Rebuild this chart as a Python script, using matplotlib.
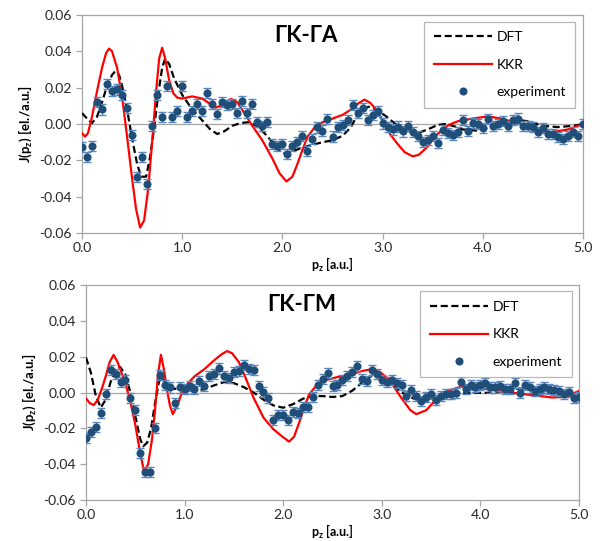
import numpy as np
import matplotlib
matplotlib.use("Agg")
import matplotlib.pyplot as plt
from matplotlib.lines import Line2D
from matplotlib.ticker import FormatStrFormatter, MultipleLocator

plt.rcParams["font.family"] = ["Lato", "DejaVu Sans"]
plt.rcParams["axes.unicode_minus"] = False

# experiment: p_z grid 0.00 ... 5.00, step 0.05
exp_x = [round(0.05 * i, 2) for i in range(101)]

exp_ga = [
    -0.0125, -0.018, -0.012, 0.012, 0.008, 0.022, 0.018, 0.019, 0.016, 0.009,
    -0.006, -0.029, -0.018, -0.033, -0.001, 0.016, 0.004, 0.021, 0.004, 0.007,
    0.021, 0.004, 0.007, 0.011, 0.007, 0.017, 0.011, 0.0055, 0.012, 0.0105,
    0.011, 0.006, 0.0127, 0.006, 0.011, 0.001, -0.001, 0.001, -0.011, -0.0123,
    -0.011, -0.0163, -0.0123, -0.010, -0.0065, -0.015, -0.0082, -0.0019, -0.0036, 0.0027,
    -0.0069, -0.0015, -0.0005, 0.0023, 0.0103, 0.006, 0.0086, 0.0023, 0.005, 0.0073,
    0.0003, -0.0018, -0.003, -0.0014, -0.0041, -0.001, -0.0046, -0.0065, -0.010, -0.0087,
    -0.0068, -0.0105, -0.0035, -0.0048, -0.006, -0.0044, 0.002, -0.004, 0.0006, 0.0,
    -0.0022, 0.0028, -0.0013, 0.0002, 0.0015, -0.0013, 0.0024, 0.003, -0.0013, -0.0009,
    -0.0017, -0.0044, -0.0022, -0.0053, -0.0053, -0.0073, -0.0083, -0.0068, -0.0046, -0.0064,
    0.0,
]

exp_gm = [
    -0.0253, -0.0223, -0.0192, -0.0117, -0.001, 0.0125, 0.0102, 0.006, 0.0069, -0.003,
    -0.0095, -0.034, -0.0443, -0.0443, -0.020, 0.0097, 0.004, 0.0028, -0.0058, 0.0028,
    0.0022, 0.0037, 0.0019, 0.0063, 0.0037, 0.009, 0.0102, 0.0134, 0.009, 0.0082,
    0.0115, 0.0118, 0.0153, 0.0132, 0.0128, 0.0034, 0.0004, -0.0033, -0.0154, -0.0125,
    -0.0127, -0.0152, -0.011, -0.0116, -0.0082, -0.008, -0.0025, 0.0041, 0.0077, 0.0107,
    0.0035, 0.0041, 0.0069, 0.0091, 0.0112, 0.0150, 0.0078, 0.0063, 0.0125, 0.0101,
    0.007, 0.006, 0.007, 0.0055, 0.004, -0.002, 0.0013, -0.002, -0.0047, -0.0024,
    -0.0006, -0.0044, -0.002, -0.001, -0.0006, -0.0003, 0.0056, 0.0017, 0.0041, 0.0032,
    0.0041, 0.0054, 0.0028, 0.0028, 0.0035, 0.0022, 0.0017, 0.0054, -0.0002, 0.0041,
    0.0028, 0.0009, 0.0022, 0.0028, 0.0019, 0.0013, 0.0009, -0.0006, 0.0004, -0.0033,
    -0.0024,
]
exp_err = 0.0028

# theory curves, GK-GA
dft_ga_x = [0.00, 0.05, 0.10, 0.15, 0.20, 0.25, 0.30, 0.33, 0.37, 0.40, 0.45, 0.50, 0.55,
            0.59, 0.64, 0.68, 0.72, 0.76, 0.80, 0.83, 0.87, 0.92, 1.00, 1.10, 1.20, 1.28,
            1.35, 1.42, 1.50, 1.58, 1.66, 1.74, 1.82, 1.90, 1.96, 2.02, 2.10, 2.20, 2.30,
            2.40, 2.50, 2.60, 2.68, 2.74, 2.80, 2.86, 2.94, 3.04, 3.15, 3.25, 3.35, 3.45,
            3.55, 3.62, 3.70, 3.80, 3.95, 4.05, 4.15, 4.25, 4.32, 4.45, 4.60, 4.75, 4.90, 5.00]
dft_ga_y = [0.006, 0.003, 0.0005, 0.004, 0.012, 0.021, 0.027, 0.029, 0.027, 0.021, 0.008,
            -0.008, -0.022, -0.029, -0.029, -0.018, -0.002, 0.016, 0.031, 0.036, 0.033,
            0.025, 0.016, 0.008, 0.002, -0.003, -0.0055, -0.004, -0.001, 0.0005, 0.001,
            -0.001, -0.005, -0.010, -0.014, -0.016, -0.015, -0.013, -0.0115, -0.010, -0.009,
            -0.0065, -0.002, 0.004, 0.008, 0.0095, 0.008, 0.004, -0.001, -0.004, -0.005,
            -0.003, -0.0005, 0.0, -0.001, -0.003, -0.0037, -0.002, 0.0, 0.002, 0.0025,
            0.0015, -0.001, -0.0017, -0.001, 0.0]

kkr_ga_x = [0.00, 0.03, 0.06, 0.10, 0.15, 0.20, 0.24, 0.27, 0.30, 0.35, 0.40, 0.45, 0.50,
            0.54, 0.58, 0.62, 0.66, 0.70, 0.74, 0.77, 0.80, 0.83, 0.87, 0.91, 0.95, 1.00,
            1.10, 1.20, 1.28, 1.33, 1.38, 1.44, 1.49, 1.55, 1.62, 1.70, 1.80, 1.90, 1.97,
            2.04, 2.10, 2.15, 2.20, 2.25, 2.32, 2.40, 2.50, 2.60, 2.70, 2.76, 2.82, 2.88,
            2.95, 3.01, 3.08, 3.15, 3.22, 3.30, 3.36, 3.44, 3.52, 3.58, 3.66, 3.75, 3.90,
            4.05, 4.18, 4.30, 4.40, 4.52, 4.68, 4.85, 5.00]
kkr_ga_y = [-0.005, -0.007, -0.005, 0.004, 0.018, 0.031, 0.039, 0.0415, 0.040, 0.031, 0.015,
            -0.007, -0.030, -0.047, -0.057, -0.053, -0.036, -0.010, 0.018, 0.036, 0.042,
            0.036, 0.024, 0.017, 0.0145, 0.014, 0.0152, 0.014, 0.011, 0.009, 0.010, 0.0125,
            0.0138, 0.012, 0.006, -0.001, -0.009, -0.019, -0.027, -0.0316, -0.029, -0.022,
            -0.0143, -0.007, -0.002, 0.001, 0.003, 0.005, 0.0085, 0.0115, 0.0134, 0.0115,
            0.007, 0.0006, -0.006, -0.011, -0.0155, -0.0178, -0.017, -0.013, -0.007, -0.004,
            -0.0005, 0.0015, 0.003, 0.0042, 0.003, 0.0012, -0.0005, -0.003, -0.0046, -0.003,
            0.0]

# theory curves, GK-GM
dft_gm_x = [0.00, 0.05, 0.10, 0.15, 0.20, 0.25, 0.30, 0.345, 0.40, 0.45, 0.50, 0.55, 0.58,
            0.62, 0.66, 0.70, 0.74, 0.77, 0.80, 0.85, 0.90, 1.00, 1.10, 1.20, 1.30, 1.40,
            1.50, 1.60, 1.70, 1.80, 1.90, 2.00, 2.10, 2.20, 2.30, 2.40, 2.50, 2.60, 2.70,
            2.80, 2.90, 2.95, 3.05, 3.19, 3.32, 3.45, 3.59, 3.72, 3.86, 4.06, 4.26, 4.40,
            4.60, 4.80, 5.00]
dft_gm_y = [0.0195, 0.011, -0.002, -0.0084, -0.004, 0.006, 0.012, 0.0143, 0.010, 0.000,
            -0.013, -0.026, -0.030, -0.028, -0.020, -0.006, 0.006, 0.0085, 0.006, 0.003,
            0.002, 0.003, 0.0012, 0.0018, 0.004, 0.0058, 0.0052, 0.003, 0.0, -0.004, -0.0072,
            -0.0085, -0.0065, -0.0035, -0.002, -0.002, -0.0025, -0.002, 0.001, 0.0055, 0.0095,
            0.010, 0.007, 0.0004, -0.0033, -0.0047, -0.0033, -0.001, -0.0002, -0.0002, 0.0009,
            0.0022, 0.001, -0.001, -0.002]

kkr_gm_x = [0.00, 0.04, 0.08, 0.12, 0.16, 0.20, 0.24, 0.28, 0.32, 0.36, 0.40, 0.45, 0.50,
            0.55, 0.59, 0.63, 0.67, 0.70, 0.73, 0.76, 0.79, 0.82, 0.85, 0.88, 0.92, 0.96,
            1.00, 1.10, 1.20, 1.30, 1.38, 1.43, 1.48, 1.55, 1.62, 1.70, 1.80, 1.90, 2.00,
            2.06, 2.11, 2.16, 2.21, 2.26, 2.34, 2.44, 2.54, 2.68, 2.80, 2.88, 2.98, 3.08,
            3.19, 3.29, 3.35, 3.45, 3.56, 3.69, 3.82, 3.96, 4.13, 4.33, 4.53, 4.73, 4.87, 5.00]
kkr_gm_y = [-0.0033, -0.006, -0.007, -0.004, 0.002, 0.009, 0.017, 0.021, 0.017, 0.011, 0.005,
            -0.005, -0.018, -0.034, -0.0443, -0.040, -0.026, -0.010, 0.010, 0.021, 0.013,
            0.002, -0.007, -0.012, -0.008, -0.002, 0.003, 0.009, 0.013, 0.018, 0.0215, 0.0231,
            0.022, 0.017, 0.008, -0.003, -0.014, -0.0205, -0.025, -0.0274, -0.0247, -0.0172,
            -0.0088, -0.0014, 0.0042, 0.007, 0.0085, 0.010, 0.012, 0.0128, 0.0115, 0.0069,
            -0.0024, -0.0099, -0.0121, -0.0099, -0.0033, 0.0013, 0.0035, 0.0028, 0.0013,
            -0.0002, -0.0015, -0.0028, -0.0024, 0.0009]

panels = [
    ("ΓK-ΓA", dft_ga_x, dft_ga_y, kkr_ga_x, kkr_ga_y, exp_ga,
     [82 / 600, 1 - 233 / 541, 501 / 600, 218 / 541], (0.447, 0.904)),
    ("ΓK-ΓM", dft_gm_x, dft_gm_y, kkr_gm_x, kkr_gm_y, exp_gm,
     [86 / 600, 1 - 500 / 541, 493 / 600, 215 / 541], (0.438, 0.907)),
]

grey = "#a6a6a6"
dot_col = "#1f4e79"
fig = plt.figure(figsize=(6, 5.41), dpi=100)

for title, dx, dy, kx, ky, ey, rect, tpos in panels:
    ax = fig.add_axes(rect)
    ax.axhline(0, color=grey, lw=0.9, zorder=1)
    ax.plot(dx, dy, color="black", ls=(0, (3.2, 1.6)), lw=1.6, zorder=3)
    ax.plot(kx, ky, color="#ff0000", lw=1.6, zorder=4)
    ax.errorbar(exp_x, ey, yerr=exp_err, fmt="o", ms=4.8, color=dot_col,
                ecolor="#5b86bb", elinewidth=1.0, capsize=2.8, capthick=1.0,
                zorder=5)
    ax.set_xlim(0, 5)
    ax.set_ylim(-0.06, 0.06)
    ax.xaxis.set_major_locator(MultipleLocator(1.0))
    ax.yaxis.set_major_locator(MultipleLocator(0.02))
    ax.xaxis.set_major_formatter(FormatStrFormatter("%.1f"))
    ax.yaxis.set_major_formatter(FormatStrFormatter("%.2f"))
    for s in ax.spines.values():
        s.set_color(grey)
        s.set_linewidth(0.9)
    ax.tick_params(colors=grey, labelcolor="#262626", labelsize=10,
                   direction="out", length=4, width=0.9)
    ax.tick_params(axis="x", pad=2.5)
    ax.set_ylabel("J(p$_\\mathregular{z}$) [el./a.u.]", fontsize=9.5,
                  fontweight="bold", labelpad=4)
    ax.set_xlabel("p$_\\mathregular{z}$ [a.u.]", fontsize=9,
                  fontweight="bold", labelpad=1)
    ax.text(tpos[0], tpos[1], title, transform=ax.transAxes, ha="center",
            va="center", fontsize=16, fontweight="bold", color="black")
    handles = [
        Line2D([], [], color="black", ls=(0, (3.2, 1.6)), lw=1.6),
        Line2D([], [], color="#ff0000", lw=1.6),
        Line2D([], [], color=dot_col, ls="none", marker="o", ms=4.8),
    ]
    leg = ax.legend(handles, ["DFT", "KKR", "experiment"], loc="upper right",
                    bbox_to_anchor=(0.985, 0.97), fontsize=10, frameon=True,
                    fancybox=False, handlelength=4.2, labelspacing=1.1,
                    borderpad=0.7, handletextpad=0.3, borderaxespad=0)
    leg.get_frame().set_edgecolor(grey)
    leg.get_frame().set_linewidth(0.9)

fig.savefig("out.png", dpi=100)
